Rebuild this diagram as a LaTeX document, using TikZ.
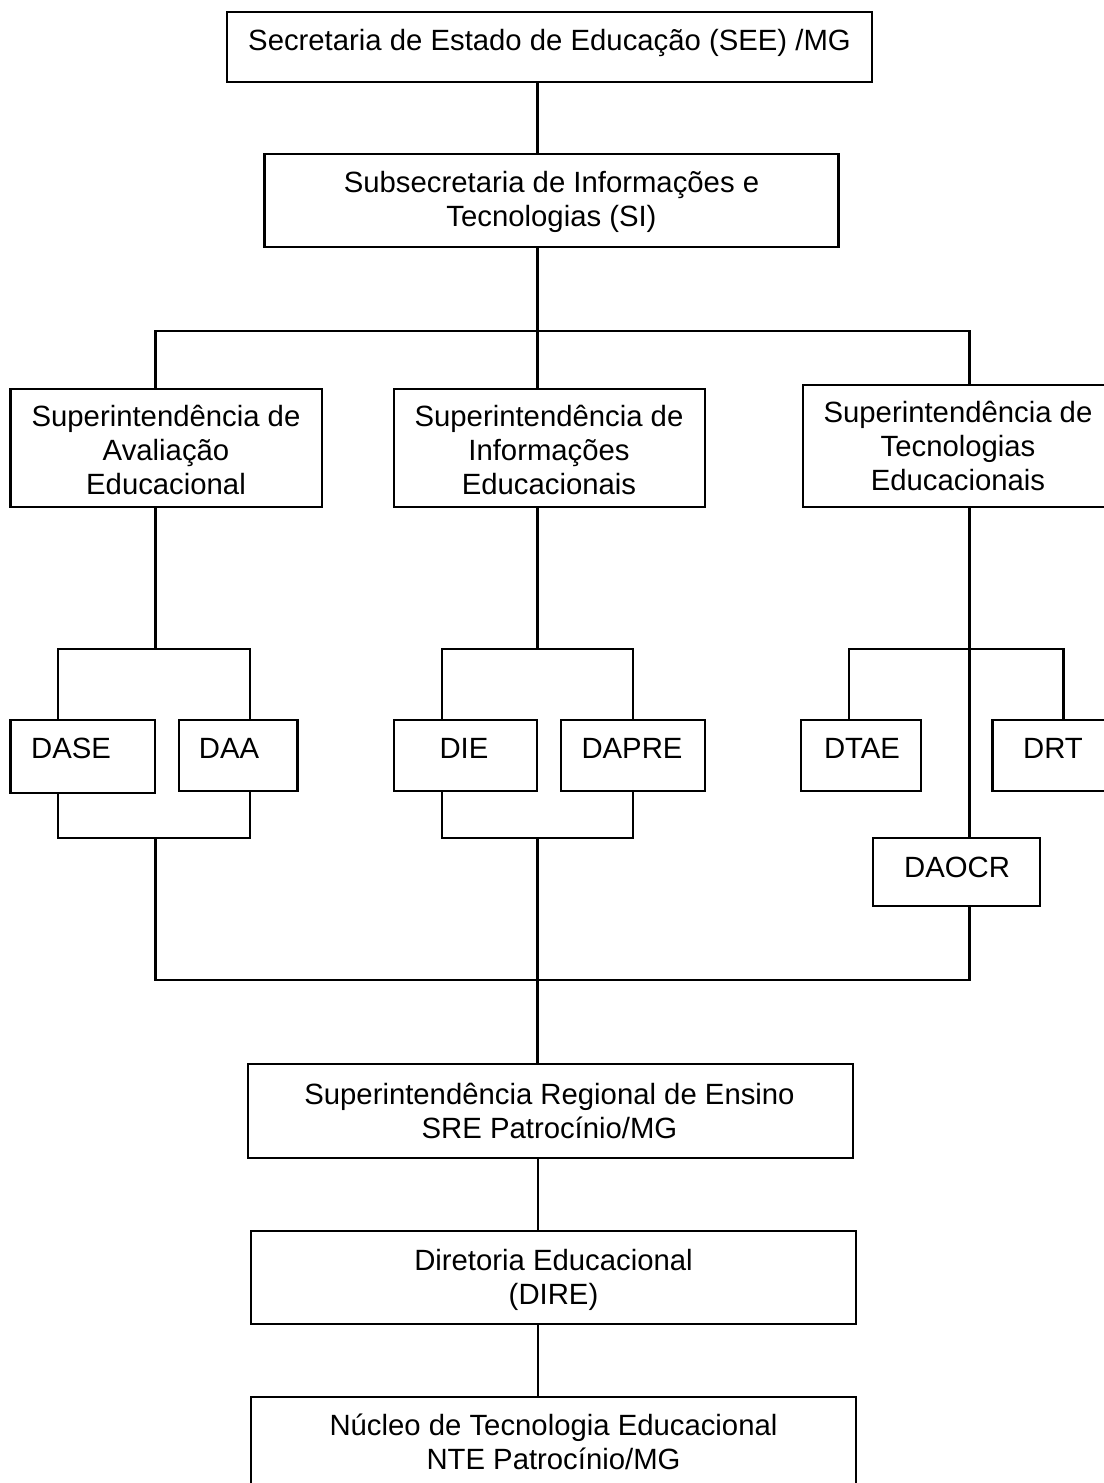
\documentclass[tikz,border=0pt]{standalone}
\usepackage{fontspec}
\setmainfont{Liberation Sans}
\begin{document}
\begin{tikzpicture}[x=1pt,y=-1pt,
  box/.style={draw=black, line width=2.2pt, rectangle, inner sep=0pt, outer sep=0pt},
  lbl/.style={anchor=base, align=center, inner sep=0pt, font=\fontsize{29.3}{34}\selectfont},
  conn/.style={draw=black, line width=2.2pt, line cap=rect}]
\useasboundingbox (0,0) rectangle (1103,1483);
% boxes
\node[box, minimum width=645, minimum height=70] (see) at (549.5,47) {};
\node[box, minimum width=574, minimum height=93] (sub) at (551.5,200.5) {};
\node[box, minimum width=311.5, minimum height=118] (sae) at (166.25,448) {};
\node[box, minimum width=311, minimum height=118] (sie) at (549.5,448) {};
\node[box, minimum width=310.4, minimum height=122] (ste) at (957.8,446) {};
\node[box, minimum width=144.5, minimum height=73] (dase) at (82.75,756.5) {};
\node[box, minimum width=118.5, minimum height=71] (daa) at (238.25,755.5) {};
\node[box, minimum width=143, minimum height=71] (die) at (465.5,755.5) {};
\node[box, minimum width=144, minimum height=71] (dapre) at (633,755.5) {};
\node[box, minimum width=120, minimum height=71] (dtae) at (861,755.5) {};
\node[box, minimum width=120.5, minimum height=71] (drt) at (1052.75,755.5) {};
\node[box, minimum width=167, minimum height=68] (daocr) at (956.5,872) {};
\node[box, minimum width=605, minimum height=94] (sre) at (550.1,1111) {};
\node[box, minimum width=605, minimum height=93] (dire) at (553.5,1277.5) {};
\node[box, minimum width=605, minimum height=103] (nte) at (553.5,1448.5) {};
% labels (anchor = baseline of last line)
\node[lbl] (seeT) at (549.5,50) {Secretaria de Estado de Educação (SEE) /MG};
\node[lbl] (subT) at (551.5,226) {Subsecretaria de Informações e\\Tecnologias (SI)};
\node[lbl] (saeT) at (166,494) {Superintendência de\\Avaliação\\Educacional};
\node[lbl] (sieT) at (549,494) {Superintendência de\\Informações\\Educacionais};
\node[lbl] (steT) at (958,490) {Superintendência de\\Tecnologias\\Educacionais};
\node[lbl] (daseT) at (71,758) {DASE};
\node[lbl] (daaT) at (229,758) {DAA};
\node[lbl] (dieT) at (464,758) {DIE};
\node[lbl] (dapreT) at (632,758) {DAPRE};
\node[lbl] (dtaeT) at (862,758) {DTAE};
\node[lbl] (drtT) at (1053,758) {DRT};
\node[lbl] (daocrT) at (957,877) {DAOCR};
\node[lbl] (sreT) at (549.5,1138) {Superintendência Regional de Ensino\\SRE Patrocínio/MG};
\node[lbl] (direT) at (553.5,1304) {Diretoria Educacional\\(DIRE)};
\node[lbl] (nteT) at (553.5,1469) {Núcleo de Tecnologia Educacional\\NTE Patrocínio/MG};
% junction coordinates
\coordinate (jTop) at (537.5,331);
\coordinate (jTL) at (155.5,331);
\coordinate (jTR) at (969.5,331);
\coordinate (jAL) at (58,649);
\coordinate (jAR) at (250,649);
\coordinate (jAM) at (155.5,649);
\coordinate (jIL) at (442,649);
\coordinate (jIR) at (633,649);
\coordinate (jIM) at (537.5,649);
\coordinate (jTeL) at (849,649);
\coordinate (jTeR) at (1063.5,649);
\coordinate (jTeM) at (969.5,649);
\coordinate (kAL) at (58,838);
\coordinate (kAR) at (250,838);
\coordinate (kAM) at (155.5,838);
\coordinate (kIL) at (442,838);
\coordinate (kIR) at (633,838);
\coordinate (kIM) at (537.5,838);
\coordinate (bL) at (155.5,980);
\coordinate (bR) at (969.5,980);
\coordinate (lowX) at (538,1200);
% connectors
\draw[conn] (see.south -| jTop) -- (sub.north -| jTop);
\draw[conn] (sub.south -| jTop) -- (jTop);
\draw[conn] (jTL) -- (jTR);
\draw[conn] (jTL) -- (sae.north -| jTL);
\draw[conn] (jTop) -- (sie.north -| jTop);
\draw[conn] (jTR) -- (ste.north -| jTR);
% avaliacao branch
\draw[conn] (sae.south -| jAM) -- (jAM);
\draw[conn] (jAL) -- (jAR);
\draw[conn] (jAL) -- (dase.north -| jAL);
\draw[conn] (jAR) -- (daa.north -| jAR);
\draw[conn] (dase.south -| kAL) -- (kAL) -- (kAR) -- (daa.south -| kAR);
\draw[conn] (kAM) -- (bL);
% informacoes branch
\draw[conn] (sie.south -| jIM) -- (jIM);
\draw[conn] (jIL) -- (jIR);
\draw[conn] (jIL) -- (die.north -| jIL);
\draw[conn] (jIR) -- (dapre.north -| jIR);
\draw[conn] (die.south -| kIL) -- (kIL) -- (kIR) -- (dapre.south -| kIR);
\draw[conn] (kIM) -- (sre.north -| kIM);
% tecnologias branch
\draw[conn] (ste.south -| jTeM) -- (daocr.north -| jTeM);
\draw[conn] (jTeL) -- (jTeR);
\draw[conn] (jTeL) -- (dtae.north -| jTeL);
\draw[conn] (jTeR) -- (drt.north -| jTeR);
\draw[conn] (daocr.south -| bR) -- (bR);
% bottom bus
\draw[conn] (bL) -- (bR);
\draw[conn] (sre.south -| lowX) -- (dire.north -| lowX);
\draw[conn] (dire.south -| lowX) -- (nte.north -| lowX);
\end{tikzpicture}
\end{document}
